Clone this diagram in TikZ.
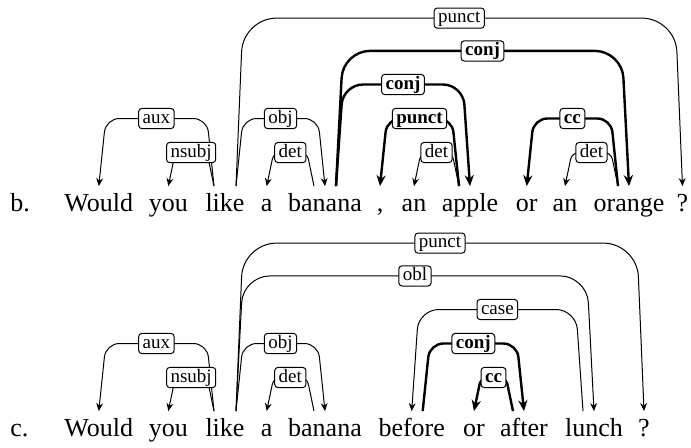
\documentclass[tikz,border=0pt]{standalone}
\usepackage{fontspec}
\setmainfont{Liberation Serif}
\usetikzlibrary{
  arrows.meta,
  calc
}
\tikzset{
  % For the words of a sentence.
  word/.style={
    anchor=base,
    inner sep=0pt,
    text height=12.6pt,
    text depth=3pt,
    font=\fontsize{13}{15}\selectfont},
%
  % Height of the horizontal part of an arc above the words.
  deplevel/.store in=\deplevel,
  deplevel=16.8pt,
%
  % For dependency arcs: a slanted leg up from the head, across, and a
  % slanted leg down to the dependent.  Labels sit in the middle.
  dep/.style={
    line width=0.5pt,
    -{Stealth[length=4pt,width=3.4pt]},
    to path={
      let
        \p1=(\tikztostart),
        \p2=(\tikztotarget)
      in
        -- ({\x1+3.5pt*sign(\x2-\x1)}, {\y1+\deplevel})
        -- ({\x2-3.5pt*sign(\x2-\x1)}, {\y1+\deplevel}) \tikztonodes
        -- (\tikztotarget)}},
%
  % For the arcs of the coordination.
  heavy/.style={
    dep,
    line width=1.2pt,
    -{Stealth[length=5.5pt,width=4.6pt]}},
%
  % Arc heights; taller arcs get rounder corners.
  lvl1/.style={deplevel=16.8pt, rounded corners=3.4pt},
  lvl2/.style={deplevel=33.8pt, rounded corners=6.8pt},
  lvl3/.style={deplevel=50.8pt, rounded corners=10pt},
  lvl4/.style={deplevel=67.6pt, rounded corners=13.5pt},
  lvl5/.style={deplevel=84pt, rounded corners=16.8pt},
%
  % For arc labels.
  lab/.style={
    draw,
    fill=white,
    midway,
    line width=0.5pt,
    rounded corners=1.6pt,
    inner xsep=2pt,
    inner ysep=1pt,
    text height=6.3pt,
    text depth=1.8pt,
    font=\fontsize{9.5}{10}\selectfont},
%
  % For labels of the coordination arcs.
  blab/.style={
    lab,
    font=\fontsize{9.5}{10}\selectfont\bfseries}
}

\begin{document}
\begin{tikzpicture}[x=0.5pt, y=-0.5pt]
  \useasboundingbox (0,0) rectangle (691,447);

  % Sentence b.
  \node[word, anchor=base west] (bmark) at (10,211.7) {b.};
  \node[word] (bwould) at (98.8,211.7) {Would};
  \node[word] (byou) at (168.3,211.7) {you};
  \node[word] (blike) at (225,211.7) {like};
  \node[word] (ba) at (266.7,211.7) {a};
  \node[word] (bbanana) at (325,211.7) {banana};
  \node[word] (bcomma) at (380,211.7) {,};
  \node[word] (ban1) at (414,211.7) {an};
  \node[word] (bapple) at (470,211.7) {apple};
  \node[word] (bor) at (526.7,211.7) {or};
  \node[word] (ban2) at (565,211.7) {an};
  \node[word] (borange) at (629,211.7) {orange};
  \node[word] (bq) at (682.5,211.7) {?};

  \draw[dep, lvl5] ([xshift=5.5pt]blike.north)
    to node[lab] (bpunct) {punct} (bq.north);
  \draw[heavy, lvl4] ([xshift=5.5pt]bbanana.north)
    to node[blab] (bconjb) {conj} (borange.north);
  \draw[heavy, lvl3] ([xshift=5.5pt]bbanana.north)
    to node[blab] (bconja) {conj} (bapple.north);
  \draw[dep, lvl2] ([xshift=-5.5pt]blike.north)
    to node[lab] (baux) {aux} (bwould.north);
  \draw[dep, lvl2] ([xshift=5.5pt]blike.north)
    to node[lab] (bobj) {obj} (bbanana.north);
  \draw[heavy, lvl2] ([xshift=-5.5pt]bapple.north)
    to node[blab] (bpunctc) {punct} (bcomma.north);
  \draw[heavy, lvl2] ([xshift=-5.5pt]borange.north)
    to node[blab] (bcc) {cc} (bor.north);
  \draw[dep, lvl1] ([xshift=-5.5pt]blike.north)
    to node[lab] (bnsubj) {nsubj} (byou.north);
  \draw[dep, lvl1] ([xshift=-5.5pt]bbanana.north)
    to node[lab] (bdeta) {det} (ba.north);
  \draw[dep, lvl1] ([xshift=-5.5pt]bapple.north)
    to node[lab] (bdetb) {det} (ban1.north);
  \draw[dep, lvl1] ([xshift=-5.5pt]borange.north)
    to node[lab] (bdetc) {det} (ban2.north);

  % Sentence c.
  \node[word, anchor=base west] (cmark) at (10,436.7) {c.};
  \node[word] (cwould) at (98.8,436.7) {Would};
  \node[word] (cyou) at (168.3,436.7) {you};
  \node[word] (clike) at (225,436.7) {like};
  \node[word] (ca) at (266.7,436.7) {a};
  \node[word] (cbanana) at (325,436.7) {banana};
  \node[word] (cbefore) at (411.7,436.7) {before};
  \node[word] (cor) at (474,436.7) {or};
  \node[word] (cafter) at (524,436.7) {after};
  \node[word] (clunch) at (594,436.7) {lunch};
  \node[word] (cq) at (644,436.7) {?};

  \draw[dep, lvl5] ([xshift=5.5pt]clike.north)
    to node[lab] (cpunct) {punct} (cq.north);
  \draw[dep, lvl4] ([xshift=5.5pt]clike.north)
    to node[lab] (cobl) {obl} (clunch.north);
  \draw[dep, lvl3] ([xshift=-5.5pt]clunch.north)
    to node[lab] (ccase) {case} (cbefore.north);
  \draw[dep, lvl2] ([xshift=-5.5pt]clike.north)
    to node[lab] (caux) {aux} (cwould.north);
  \draw[dep, lvl2] ([xshift=5.5pt]clike.north)
    to node[lab] (cobj) {obj} (cbanana.north);
  \draw[heavy, lvl2] ([xshift=5.5pt]cbefore.north)
    to node[blab] (cconj) {conj} (cafter.north);
  \draw[dep, lvl1] ([xshift=-5.5pt]clike.north)
    to node[lab] (cnsubj) {nsubj} (cyou.north);
  \draw[dep, lvl1] ([xshift=-5.5pt]cbanana.north)
    to node[lab] (cdet) {det} (ca.north);
  \draw[heavy, lvl1] ([xshift=-5.5pt]cafter.north)
    to node[blab] (ccc) {cc} (cor.north);
\end{tikzpicture}
\end{document}
